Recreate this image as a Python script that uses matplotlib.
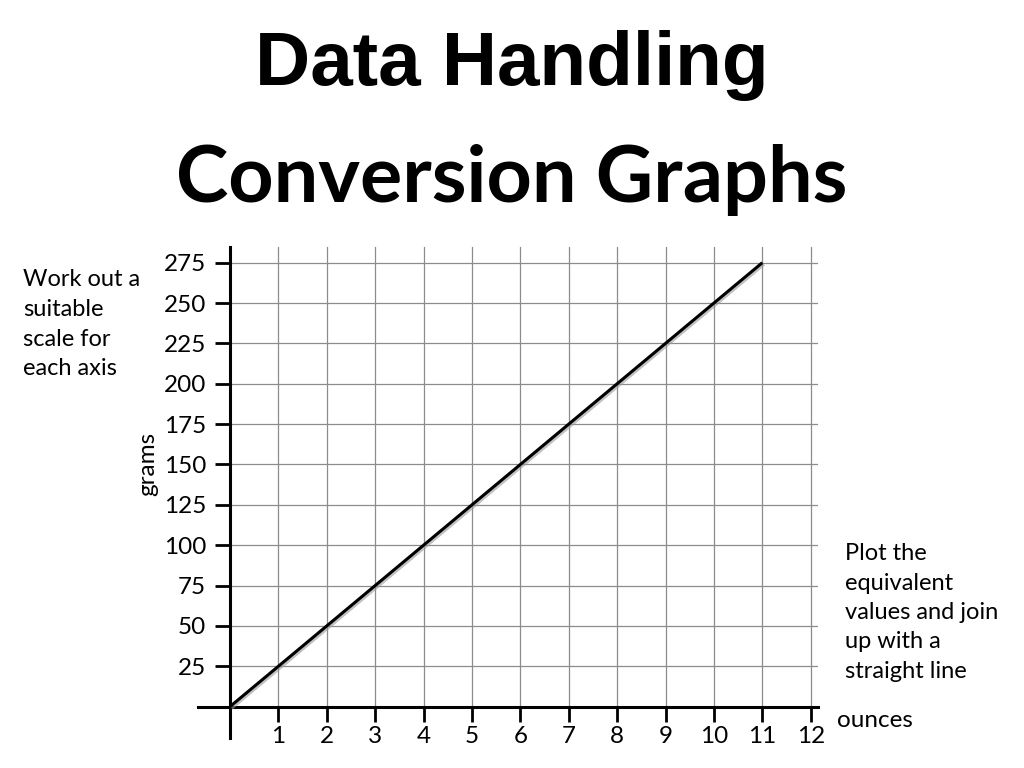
import matplotlib
matplotlib.use("Agg")
import matplotlib.pyplot as plt
import matplotlib.patheffects as pe

# conversion line: ounces -> grams
ounces = [0, 11]
grams = [0, 275]

x_ticks = [1, 2, 3, 4, 5, 6, 7, 8, 9, 10, 11, 12]
y_ticks = [25, 50, 75, 100, 125, 150, 175, 200, 225, 250, 275]

body_font = "Lato"

fig = plt.figure(figsize=(10.24, 7.68), dpi=100)
fig.patch.set_facecolor("white")

# headings
fig.text(0.5, 1 - 85 / 768, "Data Handling", ha="center", va="baseline",
         fontsize=55, fontweight="bold", family="Liberation Sans")
fig.text(0.5, 1 - 202 / 768, "Conversion Graphs", ha="center", va="baseline",
         fontsize=57, fontweight="bold", family=body_font)

ax = fig.add_axes([198 / 1024, 30 / 768, 620 / 1024, 491 / 768])
ax.set_xlim(-0.66, 12.15)
ax.set_ylim(-19.4, 284.7)

# grid drawn by hand so it starts at the axes
for x in x_ticks:
    ax.plot([x, x], [0, 284.7], color="#8c8c8c", lw=0.9, zorder=1)
for y in y_ticks:
    ax.plot([0, 12.15], [y, y], color="#8c8c8c", lw=0.9, zorder=1)

ax.plot(ounces, grams, color="black", lw=2.2, solid_capstyle="butt", zorder=3,
        path_effects=[pe.SimpleLineShadow(offset=(1.2, -1.2), shadow_color="#999999", alpha=0.6),
                      pe.Normal()])

for side in ["top", "right"]:
    ax.spines[side].set_visible(False)
ax.spines["left"].set_position(("data", 0))
ax.spines["bottom"].set_position(("data", 0))
ax.spines["left"].set_linewidth(2.2)
ax.spines["bottom"].set_linewidth(2.2)

ax.set_xticks(x_ticks)
ax.set_yticks(y_ticks)
ax.set_xticklabels([str(v) for v in x_ticks], family=body_font, fontsize=17.5)
ax.set_yticklabels([str(v) for v in y_ticks], family=body_font, fontsize=17.5)
ax.tick_params(axis="both", length=11, width=2, direction="out", pad=3)
ax.tick_params(axis="y", pad=6)

ax.set_facecolor("none")

# axis names
fig.text(148 / 1024, 1 - 464 / 768, "grams", rotation=90, ha="center", va="center",
         fontsize=17.5, family=body_font)
fig.text(837 / 1024, 1 - 727 / 768, "ounces", ha="left", va="baseline",
         fontsize=17.5, family=body_font)

# instructions (baseline of a multi-line text is its last line)
fig.text(23 / 1024, 1 - 375 / 768, "Work out a\nsuitable\nscale for\neach axis",
         ha="left", va="baseline", fontsize=17, family=body_font, linespacing=1.5)
fig.text(845 / 1024, 1 - 678 / 768,
         "Plot the\nequivalent\nvalues and join\nup with a\nstraight line",
         ha="left", va="baseline", fontsize=17, family=body_font, linespacing=1.5)

fig.savefig("out.png", dpi=100, facecolor="white")
